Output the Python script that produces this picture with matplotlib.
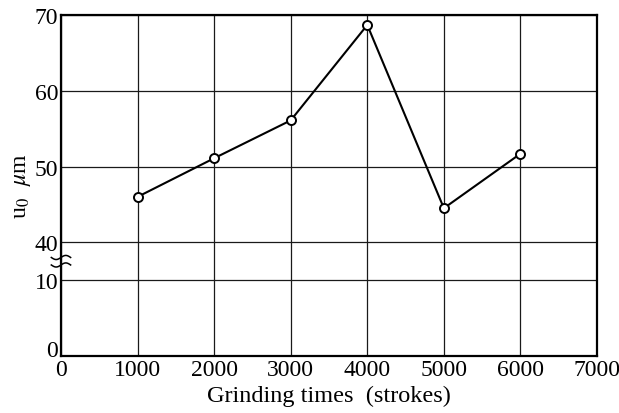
import matplotlib
matplotlib.use("Agg")
import matplotlib.pyplot as plt
import matplotlib.transforms as mtransforms
import numpy as np

# data
strokes = [1000, 2000, 3000, 4000, 5000, 6000]
u0 = [46.0, 51.1, 56.1, 68.7, 44.5, 51.7]

x_ticks = [0, 1000, 2000, 3000, 4000, 5000, 6000, 7000]
y_ticks = [0, 10, 40, 50, 60, 70]

plt.rcParams['font.family'] = ['Liberation Serif', 'DejaVu Serif']
plt.rcParams['mathtext.fontset'] = 'stix'

# broken y axis: 0-10 and 40-70 at the same scale, 10..40 squeezed into 5 units
LO, HI, GAP = 10.0, 40.0, 5.0


def fwd(y):
    y = np.asarray(y, dtype=float)
    return np.where(y <= LO, y,
                    np.where(y >= HI, y - HI + LO + GAP,
                             LO + (y - LO) * GAP / (HI - LO)))


def inv(s):
    s = np.asarray(s, dtype=float)
    return np.where(s <= LO, s,
                    np.where(s >= LO + GAP, s + HI - LO - GAP,
                             LO + (s - LO) * (HI - LO) / GAP))


fig = plt.figure(figsize=(6.19, 4.14), dpi=100)
ax = fig.add_axes([0.0985, 0.138, 0.866, 0.823])

ax.set_yscale('function', functions=(fwd, inv))
ax.set_xlim(0, 7000)
ax.set_ylim(0, 70)
ax.set_xticks(x_ticks)
ax.set_yticks(y_ticks)
ax.tick_params(length=0, labelsize=17, pad=2)
ax.grid(True, color='#1a1a1a', lw=0.9)
ax.set_axisbelow(True)

for sp in ax.spines.values():
    sp.set_linewidth(1.6)

ax.plot(strokes, u0, color='black', lw=1.5, marker='o', ms=6.5,
        mfc='white', mec='black', mew=1.4, zorder=3)

ax.set_xlabel('Grinding times  (strokes)', fontsize=17.5, labelpad=4)
ax.set_ylabel(r'u$_0$  $\mu$m', fontsize=17, labelpad=1)

# lift the y "0" a little so it clears the x "0"
fig.canvas.draw()
lbl0 = ax.get_yticklabels()[0]
lbl0.set_transform(lbl0.get_transform() +
                   mtransforms.ScaledTranslation(0, 6 / 72, fig.dpi_scale_trans))

# break marks on the y axis
s_lo, s_hi = float(fwd(0)), float(fwd(70))
mid = (float(fwd(LO)) + float(fwd(HI))) / 2
yf = (mid - s_lo) / (s_hi - s_lo)
t = np.linspace(-0.018, 0.018, 50)
wave = 0.006 * np.sin(t / 0.018 * np.pi)
for off in (0.011, -0.011):
    ax.plot(t, yf + off + wave, transform=ax.transAxes, color='black',
            lw=1.1, clip_on=False, zorder=4)

plt.savefig('out.png', dpi=100)
